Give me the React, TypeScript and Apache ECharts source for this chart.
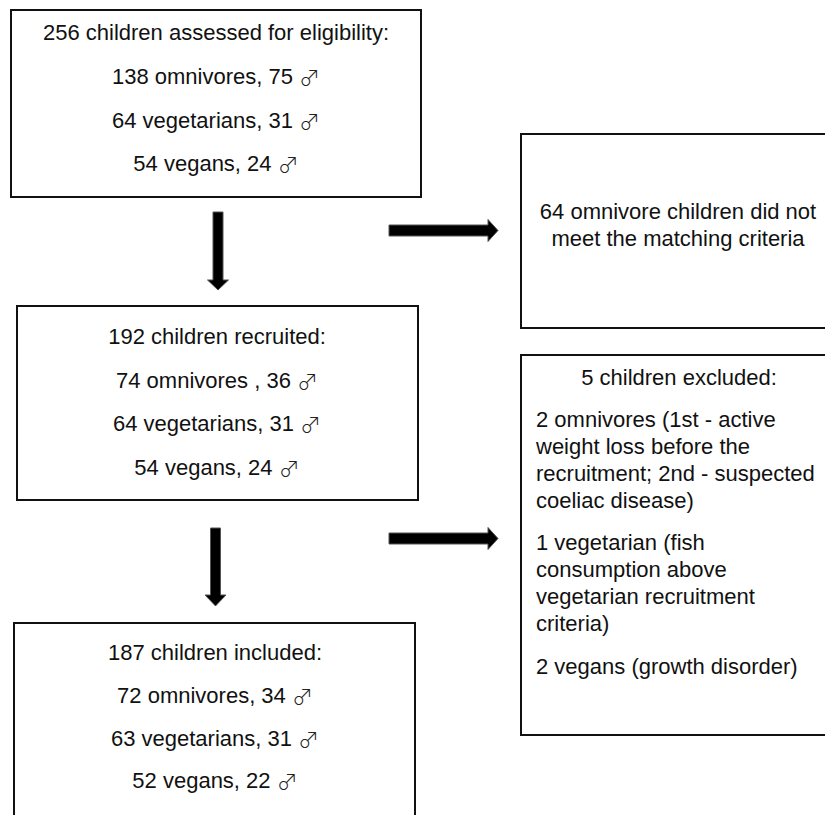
import React, { useEffect, useRef } from "react";
import * as echarts from "echarts";

const box1Lines = [
  "256 children assessed for eligibility:",
  "138 omnivores, 75 ♂",
  "64 vegetarians, 31 ♂",
  "54 vegans, 24 ♂",
];
const box2Lines = [
  "192 children recruited:",
  "74 omnivores , 36 ♂",
  "64 vegetarians, 31 ♂",
  "54 vegans, 24 ♂",
];
const box5Lines = [
  "187 children included:",
  "72 omnivores, 34 ♂",
  "63 vegetarians, 31 ♂",
  "52 vegans, 22 ♂",
];
const box3Lines = ["64 omnivore children did not", "meet the matching criteria"];
const box4Title = "5 children excluded:";
const box4Paragraphs = [
  ["2 omnivores (1st - active", "weight loss before the", "recruitment; 2nd - suspected", "coeliac disease)"],
  ["1 vegetarian (fish", "consumption above", "vegetarian recruitment", "criteria)"],
  ["2 vegans (growth disorder)"],
];

const FONT = "'Liberation Sans', Arial, Helvetica, sans-serif";
const SYM_FONT = "'Noto Sans CJK JP', 'Noto Sans CJK SC', 'DejaVu Sans', sans-serif";
const FS = 22;

function rect(x: number, y: number, w: number, h: number) {
  return {
    type: "rect",
    shape: { x, y, width: w, height: h },
    style: { fill: "#fff", stroke: "#111", lineWidth: 2 },
    z: 1,
  };
}

function txt(s: string, x: number, y: number, align: string) {
  const hasSym = s.indexOf("♂") >= 0;
  const style: any = {
    fill: "#111",
    fontSize: FS,
    fontFamily: FONT,
    align,
    verticalAlign: "middle",
  };
  if (hasSym) {
    const parts = s.split("♂");
    style.text = `{a|${parts[0]}}{m|♂}`;
    style.rich = {
      a: { fontSize: FS, fontFamily: FONT, fill: "#111", lineHeight: 26 },
      m: {
        fontSize: 21,
        fontFamily: SYM_FONT,
        fontWeight: 300,
        fill: "#222",
        lineHeight: 26,
        padding: [0, 0, 0, 0],
      },
    };
  } else {
    style.text = s;
  }
  return { type: "text", x, y, z: 3, style };
}

function downArrow(cx: number, top: number, headStart: number, tip: number) {
  return {
    type: "polygon",
    z: 2,
    shape: {
      points: [
        [cx - 5, top],
        [cx + 5, top],
        [cx + 5, headStart],
        [cx + 10.5, headStart],
        [cx, tip],
        [cx - 10.5, headStart],
        [cx - 5, headStart],
      ],
    },
    style: { fill: "#000", stroke: "#555", lineWidth: 1 },
  };
}

function rightArrow(cy: number, left: number, headStart: number, tip: number) {
  return {
    type: "polygon",
    z: 2,
    shape: {
      points: [
        [left, cy - 5.5],
        [headStart, cy - 5.5],
        [headStart, cy - 11],
        [tip, cy],
        [headStart, cy + 11],
        [headStart, cy + 5.5],
        [left, cy + 5.5],
      ],
    },
    style: { fill: "#000", stroke: "#555", lineWidth: 1 },
  };
}

export default function App() {
  const ref = useRef<HTMLDivElement>(null);
  useEffect(() => {
    if (!ref.current) return;
    const chart = echarts.init(ref.current, null, { renderer: "svg" });
    const els: any[] = [];
    els.push(rect(11, 10, 410, 187));
    els.push(rect(17, 306, 401, 194));
    els.push(rect(14, 623, 401, 300));
    els.push(rect(521, 134, 400, 194));
    els.push(rect(521, 355, 400, 380));

    const b1y = [32, 76, 120, 163];
    box1Lines.forEach((s, i) => els.push(txt(s, 216, b1y[i], "center")));
    const b2y = [336, 380, 423, 467];
    box2Lines.forEach((s, i) => els.push(txt(s, 217, b2y[i], "center")));
    const b5y = [652, 695, 738, 780];
    box5Lines.forEach((s, i) => els.push(txt(s, 215, b5y[i], "center")));
    const b3y = [211, 238];
    box3Lines.forEach((s, i) => els.push(txt(s, 678, b3y[i], "center")));
    els.push(txt(box4Title, 679, 377, "center"));
    const pStart = [419, 542, 666];
    box4Paragraphs.forEach((p, pi) =>
      p.forEach((s, li) => els.push(txt(s, 536, pStart[pi] + li * 27, "left")))
    );

    els.push(downArrow(218, 212, 280, 290));
    els.push(downArrow(215.5, 528, 595, 606));
    els.push(rightArrow(230.5, 389, 488, 498));
    els.push(rightArrow(538.5, 389, 488, 498));

    chart.setOption({
      animation: false,
      backgroundColor: "#fff",
      graphic: { elements: els },
    });
    return () => chart.dispose();
  }, []);
  return (
    <div
      ref={ref}
      style={{ position: "absolute", left: 0, top: 0, width: 825, height: 815 }}
    />
  );
}
